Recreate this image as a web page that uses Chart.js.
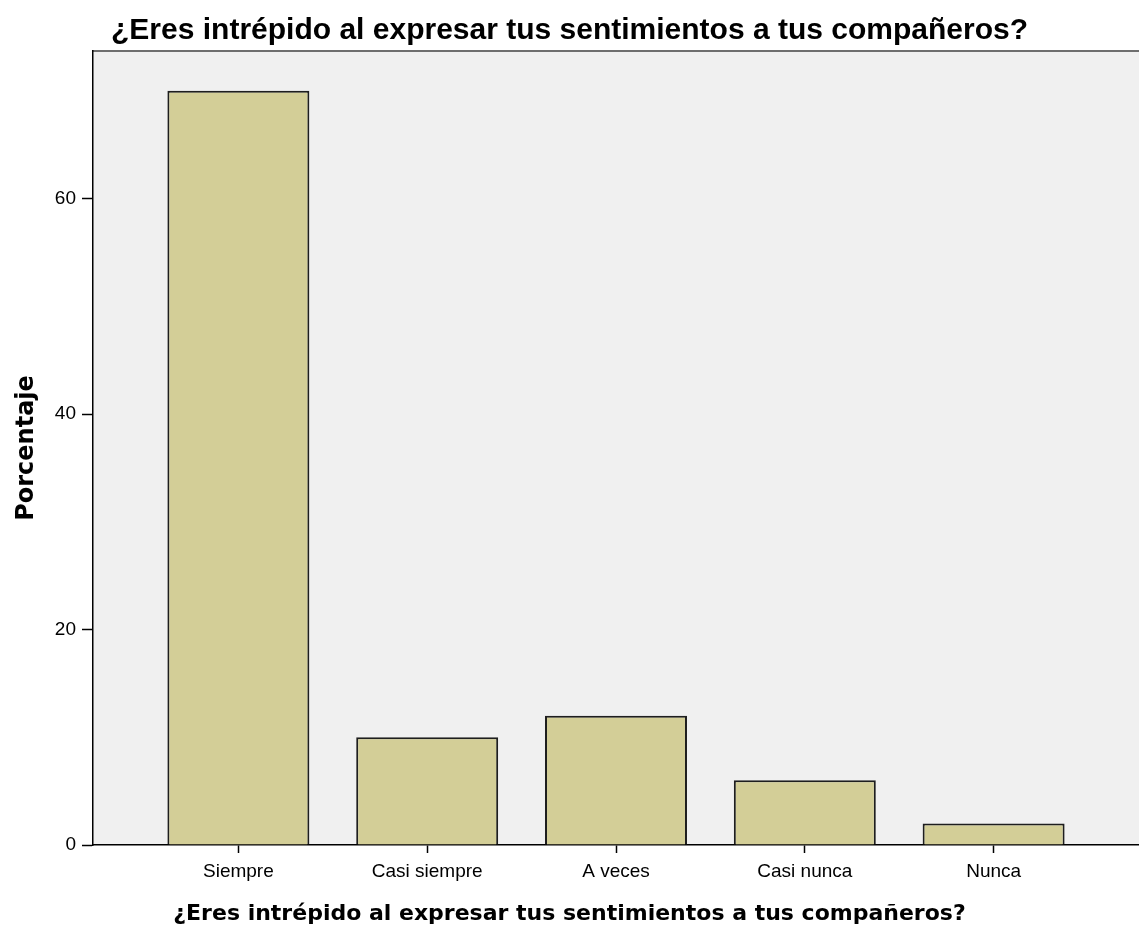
<!DOCTYPE html>
<html>
<head>
<meta charset="utf-8">
<script src="https://cdn.jsdelivr.net/npm/chart.js@4.4.1/dist/chart.umd.min.js"></script>
<style>
  body { margin: 0; background: #fff; }
  #wrap { width: 1139px; height: 934px; }
</style>
</head>
<body>
<div id="wrap"><canvas id="barChart" width="1139" height="934"></canvas></div>
<script>
// Datos
const categorias = ['Siempre', 'Casi siempre', 'A veces', 'Casi nunca', 'Nunca'];
const porcentajes = [70, 10, 12, 6, 2];
const ticksY = [0, 20, 40, 60];

const titulo = '¿Eres intrépido al expresar tus sentimientos a tus compañeros?';

// Fondo gris del área del gráfico y borde superior
const fondoPlot = {
    id: 'fondoPlot',
    beforeDraw(chart) {
        const { ctx, chartArea: a } = chart;
        ctx.save();
        ctx.fillStyle = '#f0f0f0';
        ctx.fillRect(a.left, a.top, a.right - a.left, a.bottom - a.top);
        ctx.strokeStyle = '#6e6e6e';
        ctx.lineWidth = 2;
        ctx.beginPath();
        ctx.moveTo(a.left, a.top);
        ctx.lineTo(a.right, a.top);
        ctx.stroke();
        ctx.restore();
    }
};

const ctx = document.getElementById('barChart').getContext('2d');

new Chart(ctx, {
    type: 'bar',
    data: {
        datasets: [{
            data: porcentajes.map((v, i) => ({ x: i, y: v })),
            backgroundColor: '#d3ce97',
            borderColor: '#1e1e1e',
            borderWidth: 2,
            barPercentage: 0.752,
            categoryPercentage: 1
        }]
    },
    options: {
        responsive: false,
        animation: false,
        layout: { padding: 0 },
        plugins: {
            legend: { display: false },
            tooltip: { enabled: false },
            title: {
                display: true,
                text: titulo,
                color: '#000',
                font: { family: 'Liberation Sans, Arial', size: 30, weight: 'bold' },
                padding: { top: 13, bottom: 2 }
            },
            subtitle: {
                display: true,
                position: 'bottom',
                text: titulo,
                color: '#000',
                font: { family: 'DejaVu Sans', size: 22, weight: 'bold' },
                padding: { top: 4.6, bottom: 7 }
            }
        },
        scales: {
            x: {
                type: 'linear',
                offset: false,
                min: -0.77,
                max: 4.77,
                afterBuildTicks(scale) {
                    scale.ticks = categorias.map((c, i) => ({ value: i }));
                },
                afterFit(scale) { scale.height = 51; },
                ticks: {
                    callback: v => categorias[v],
                    color: '#000',
                    font: { family: 'Liberation Sans, Arial', size: 19 },
                    padding: 7
                },
                grid: {
                    offset: false,
                    drawOnChartArea: false,
                    tickLength: 8,
                    tickColor: '#000',
                    tickWidth: 1.5
                },
                border: { color: '#000', width: 1.5 }
            },
            y: {
                min: 0,
                max: 73.7,
                afterBuildTicks(scale) {
                    scale.ticks = ticksY.map(v => ({ value: v }));
                },
                afterFit(scale) { scale.width = 93; },
                ticks: {
                    color: '#000',
                    font: { family: 'Liberation Sans, Arial', size: 19 },
                    padding: 6
                },
                grid: {
                    drawOnChartArea: false,
                    tickLength: 11,
                    tickColor: '#000',
                    tickWidth: 1.5
                },
                border: { color: '#000', width: 1.5 },
                title: {
                    display: true,
                    text: 'Porcentaje',
                    color: '#000',
                    font: { family: 'DejaVu Sans', size: 24, weight: 'bold' },
                    padding: { top: 12, bottom: 0 }
                }
            }
        }
    },
    plugins: [fondoPlot]
});
</script>
</body>
</html>
